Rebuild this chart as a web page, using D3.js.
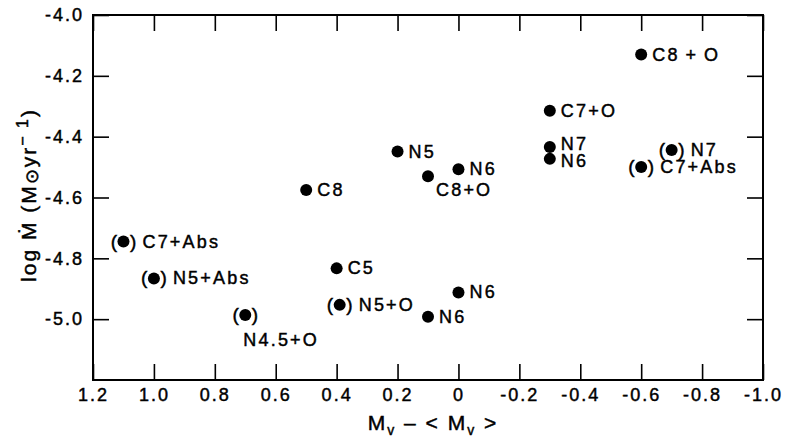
<!DOCTYPE html>
<html>
<head>
<meta charset="utf-8">
<script src="https://cdn.jsdelivr.net/npm/d3@7"></script>
<style>
  body { margin: 0; background: #fff; }
  text { font-family: "Liberation Sans", Arial, sans-serif; fill: #000; stroke: #000; stroke-width: 0.45px; }
</style>
</head>
<body>
<div id="chart"></div>
<script>
// values
var xVals = [-0.6, -0.3, -0.3, -0.3, -0.7, -0.6, 0.2, 0, 0.1, 0.5, 1.1, 1.0, 0.4, 0.39, 0, 0.1, 0.7];
var yVals = [-4.13, -4.315, -4.434, -4.473, -4.444, -4.50, -4.449, -4.507, -4.53, -4.575, -4.745, -4.866, -4.833, -4.953, -4.912, -4.992, -4.986];
var labels = ["C8\u2009+\u2009O", "C7+O", "N7", "N6", "N7", "C7+Abs", "N5", "N6", "C8+O", "C8", "C7+Abs", "N5+Abs", "C5", "N5+O", "N6", "N6", "N4.5+O"];
var uncertain = [false, false, false, false, true, true, false, false, false, false, true, true, false, true, false, false, true];
var labelSide = ["right", "right", "upRight", "downRight", "right", "right", "right", "right", "belowRight", "right", "right", "right", "right", "right", "right", "right", "below"];

var xTicks = [1.2, 1.0, 0.8, 0.6, 0.4, 0.2, 0, -0.2, -0.4, -0.6, -0.8, -1.0];
var xTickLabels = ["1.2", "1.0", "0.8", "0.6", "0.4", "0.2", "0", "-0.2", "-0.4", "-0.6", "-0.8", "-1.0"];
var yTicks = [-4.0, -4.2, -4.4, -4.6, -4.8, -5.0];
var yTickLabels = ["-4.0", "-4.2", "-4.4", "-4.6", "-4.8", "-5.0"];

var width = 785, height = 441;
var pl = 93, pr = 763, pt = 15, pb = 380;

var svg = d3.select("#chart").append("svg")
    .attr("width", width)
    .attr("height", height);

var x = d3.scaleLinear().domain([1.2, -1.0]).range([pl, pr]);
var y = d3.scaleLinear().domain([-4.0, -5.2]).range([pt, pb]);

// ticks on all four sides, pointing inwards
var tickLen = 16;
function styleAxis(g) {
    g.select(".domain").remove();
    g.selectAll(".tick line").attr("stroke", "#000").attr("stroke-width", 1.6);
    g.selectAll("text")
        .attr("font-size", 18)
        .attr("letter-spacing", "2px")
        .attr("fill", "#000")
        .attr("font-family", "Liberation Sans, Arial, sans-serif");
}

svg.append("g")
    .attr("transform", "translate(" + pl + ",0)")
    .call(d3.axisLeft(y).tickValues(yTicks).tickSize(-tickLen).tickPadding(9)
        .tickFormat(function (d, i) { return yTickLabels[i]; }))
    .call(styleAxis);

svg.append("g")
    .attr("transform", "translate(" + pr + ",0)")
    .call(d3.axisRight(y).tickValues(yTicks).tickSize(-tickLen).tickFormat(""))
    .call(styleAxis);

svg.append("g")
    .attr("transform", "translate(0," + pb + ")")
    .call(d3.axisBottom(x).tickValues(xTicks).tickSize(-tickLen).tickPadding(8)
        .tickFormat(function (d, i) { return xTickLabels[i]; }))
    .call(styleAxis);

svg.append("g")
    .attr("transform", "translate(0," + pt + ")")
    .call(d3.axisTop(x).tickValues(xTicks).tickSize(-tickLen).tickFormat(""))
    .call(styleAxis);

// frame
svg.append("rect")
    .attr("x", pl).attr("y", pt)
    .attr("width", pr - pl).attr("height", pb - pt)
    .attr("fill", "none")
    .attr("stroke", "#000")
    .attr("stroke-width", 2);

var pts = xVals.map(function (v, i) {
    return { x: v, y: yVals[i], label: labels[i], unc: uncertain[i], side: labelSide[i] };
});

var g = svg.selectAll(".pt").data(pts).enter().append("g")
    .attr("class", "pt")
    .attr("transform", function (d) { return "translate(" + x(d.x) + "," + y(d.y) + ")"; });

g.append("circle")
    .attr("r", 6)
    .attr("fill", "#000");

// parentheses around uncertain points
g.filter(function (d) { return d.unc; }).append("text")
    .attr("x", -6.5).attr("y", 6)
    .attr("text-anchor", "end")
    .attr("font-size", 19)
    .text("(");
g.filter(function (d) { return d.unc; }).append("text")
    .attr("x", 6.5).attr("y", 6)
    .attr("text-anchor", "start")
    .attr("font-size", 19)
    .text(")");

g.append("text")
    .attr("font-size", 18)
    .attr("letter-spacing", "2.2px")
    .attr("x", function (d) {
        if (d.side == "below") return -2;
        if (d.side == "belowRight") return 8;
        return d.unc ? 19 : 11;
    })
    .attr("y", function (d) {
        if (d.side == "below") return 31;
        if (d.side == "belowRight") return 20;
        if (d.side == "upRight") return 3;
        if (d.side == "downRight") return 8;
        return 6;
    })
    .text(function (d) { return d.label; });

// axis titles
var yt = svg.append("text")
    .attr("transform", "translate(36,195) rotate(-90)")
    .attr("text-anchor", "middle")
    .attr("font-size", 21)
    .attr("letter-spacing", "2px");
yt.append("tspan").text("log  \u1E40 (M");
yt.append("tspan").attr("dy", 2).attr("font-size", 18).text("\u2299");
yt.append("tspan").attr("dy", -2).text("yr");
yt.append("tspan").attr("dy", -8).attr("font-size", 16).text("\u2212 1");
yt.append("tspan").attr("dy", 8).text(")");

var xt = svg.append("text")
    .attr("x", (pl + pr) / 2 + 5)
    .attr("y", 430)
    .attr("text-anchor", "middle")
    .attr("font-size", 21)
    .attr("letter-spacing", "2px");
xt.append("tspan").text("M");
xt.append("tspan").attr("dy", 5).attr("font-size", 14).text("v");
xt.append("tspan").attr("dy", -5).text(" \u2013 < M");
xt.append("tspan").attr("dy", 5).attr("font-size", 14).text("v");
xt.append("tspan").attr("dy", -5).text(" >");
</script>
</body>
</html>
